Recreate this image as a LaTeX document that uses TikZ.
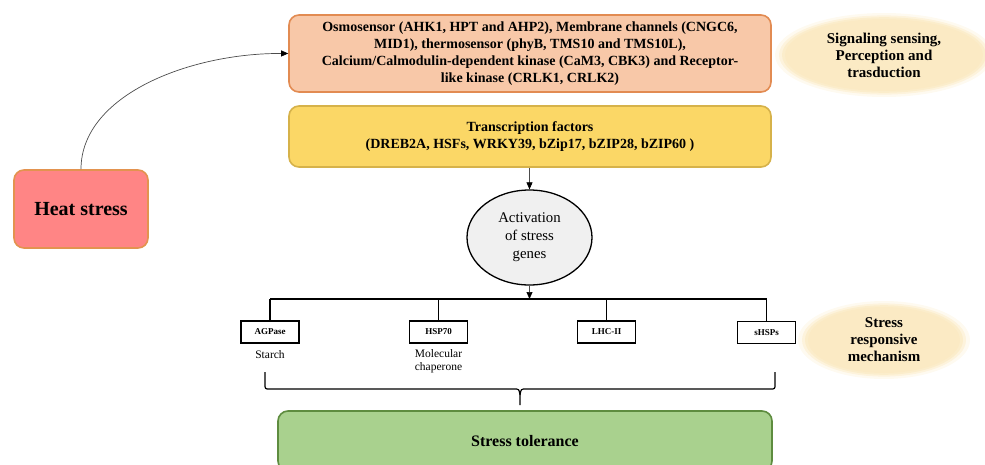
\documentclass[tikz,border=0pt]{standalone}
\usepackage{fontspec}
\setmainfont{Liberation Serif}
\usetikzlibrary{arrows.meta,shapes.geometric,positioning}
\definecolor{peachfill}{HTML}{F8C8A8}
\definecolor{peachline}{HTML}{E28B52}
\definecolor{tffill}{HTML}{FBD766}
\definecolor{tfline}{HTML}{D6B24A}
\definecolor{tolfill}{HTML}{A9D18E}
\definecolor{tolline}{HTML}{5E8C3F}
\definecolor{heatfill}{HTML}{FF8585}
\definecolor{heatline}{HTML}{E3934F}
\definecolor{tagfill}{HTML}{FBEAC4}
\definecolor{genefill}{HTML}{F0F0F0}
\begin{document}
\begin{tikzpicture}[x=1pt,y=-1pt,
  stagebox/.style={draw, rounded corners=10pt, line width=1.6pt, align=center,
    inner sep=0pt, font=\bfseries\fontsize{14}{17}\selectfont},
  genebox/.style={draw, line width=1.2pt, minimum width=58pt, minimum height=22pt,
    inner sep=0pt, font=\bfseries\fontsize{9}{10}\selectfont},
  tag/.style={ellipse, fill=tagfill, align=center, inner sep=0pt,
    font=\bfseries\fontsize{15}{17}\selectfont},
  note/.style={align=center, inner sep=0pt, font=\fontsize{11.5}{13}\selectfont},
  link/.style={draw=black!70, line width=0.7pt, -{Triangle[width=6pt,length=7pt,color=black]}},
  bus/.style={line width=1.3pt}]
\useasboundingbox (0,0) rectangle (985,464);

% soft halos behind the two side labels
\foreach \s/\o in {10/0.25,6/0.45,3/0.7}{
  \fill[tagfill, opacity=\o] (884,55) ellipse [x radius={99pt+\s pt}, y radius={36pt+\s pt*0.6}];
  \fill[tagfill, opacity=\o] (884,340) ellipse [x radius={76pt+\s pt}, y radius={33pt+\s pt*0.6}];
}

% main stages
\node[stagebox, fill=peachfill, draw=peachline, minimum width=482pt, minimum height=77pt]
  (sense) at (530,53.5)
  {Osmosensor (AHK1, HPT and AHP2), Membrane channels (CNGC6,\\
   MID1), thermosensor (phyB, TMS10 and TMS10L),\\
   Calcium/Calmodulin-dependent kinase (CaM3, CBK3) and Receptor-\\
   like kinase (CRLK1, CRLK2)};
\node[stagebox, fill=tffill, draw=tfline, minimum width=482pt, minimum height=61pt]
  (tf) at (530,136.5)
  {Transcription factors\\(DREB2A, HSFs, WRKY39, bZip17, bZIP28, bZIP60 )};
\node[stagebox, fill=heatfill, draw=heatline, minimum width=134pt, minimum height=78pt,
  font=\bfseries\fontsize{20}{22}\selectfont] (heat) at (81,209) {Heat stress};
\node[ellipse, draw, line width=1.3pt, fill=genefill, minimum width=125pt, minimum height=95pt,
  inner sep=0pt, align=center, font=\fontsize{14.8}{18}\selectfont]
  (genes) at (529.5,237.5) {Activation\\of stress\\genes};
\node[stagebox, fill=tolfill, draw=tolline, minimum width=494pt, minimum height=60pt,
  font=\bfseries\fontsize{16}{17}\selectfont, text depth=0pt]
  (tol) at (525,441) {\raisebox{1pt}{Stress tolerance}};

% side labels
\node[tag, minimum width=198pt, minimum height=72pt] (lab1) at (884,55)
  {Signaling sensing,\\Perception and\\trasduction};
\node[tag, minimum width=152pt, minimum height=66pt] (lab2) at (884,340)
  {Stress\\responsive\\mechanism};

% responsive genes
\node[genebox] (agp) at (270,332) {AGPase};
\node[genebox] (hsp) at (438.5,332) {HSP70};
\node[genebox] (lhc) at (606.5,332) {LHC-II};
\node[genebox] (shs) at (766.5,332.5) {sHSPs};
\node[note, below=7pt of agp] (starch) {Starch};
\node[note, below=6pt of hsp] (chap) {Molecular\\chaperone};

% connectors
\draw[link] (heat.north) .. controls (81,95) and (190,53) .. (sense.west);
\draw[link] (tf.south -| genes.north) -- (genes.north);
\coordinate (junction) at (529.5,299);
\draw[link] (genes.south) -- (junction);
\draw[bus] (agp.north |- junction) -- (shs.north |- junction);
\foreach \g in {agp,hsp,lhc,shs}
  \draw[bus] (\g.north |- junction) -- (\g.north);

% brace gathering the responses
\coordinate (bl) at (265,372);
\coordinate (br) at (775,372);
\coordinate (tip) at (520,405);
\draw[line width=1.2pt, line join=round]
  (bl) -- (265,384) .. controls (265,389) .. (270,389) -- (514,389)
  .. controls (519,389) .. (520,395) -- (tip);
\draw[line width=1.2pt, line join=round]
  (br) -- (775,384) .. controls (775,389) .. (770,389) -- (526,389)
  .. controls (521,389) .. (520,395);
\end{tikzpicture}
\end{document}
